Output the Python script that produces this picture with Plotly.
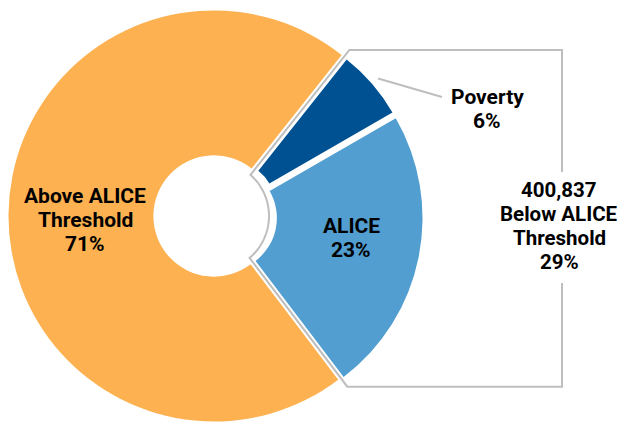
import math
import plotly.graph_objects as go

# ---- data ----
labels = ["Poverty", "ALICE", "Above ALICE Threshold"]
shares = [6, 23, 71]
below_alice_count = "400,837"
below_alice_share = 29
colors = ["#005192", "#529ED0", "#FDB150"]

# ---- layout constants (screen pixels of the 625x422 window) ----
WIN_W, WIN_H = 625, 422
OFF = 8                      # page body margin
W, H = WIN_W - OFF, WIN_H - OFF
ROT = 38.4
# centre x, centre y, radius, hole fraction for each slice's own ring
geom = {
    "Above ALICE Threshold": (214, 216, 205.5, 0.295),
    "ALICE": (223, 218, 199.5, 0.27),
    "Poverty": (230.5, 206, 187, 0.24),
}


def paper(x, y):
    return (x - OFF) / W, 1 - (y - OFF) / H


def domain(cx, cy, r):
    x0, y1 = paper(cx - r, cy - r)
    x1, y0 = paper(cx + r, cy + r)
    return dict(x=[max(0, x0), min(1, x1)], y=[max(0, y0), min(1, y1)])


fig = go.Figure()
for i, lab in enumerate(labels):
    cx, cy, r, hole = geom[lab]
    fig.add_trace(go.Pie(
        labels=labels, values=shares, sort=False, direction="clockwise",
        rotation=ROT, hole=hole, domain=domain(cx, cy, r),
        marker=dict(colors=[c if j == i else "rgba(0,0,0,0)" for j, c in enumerate(colors)],
                    line=dict(width=0)),
        textinfo="none", hoverinfo="skip", showlegend=False,
    ))

# ---- bracket outline around the below-ALICE part ----
total = sum(shares)
th_top = math.radians(ROT)
th_bot = math.radians(ROT + (shares[0] + shares[1]) / total * 360)
cx, cy = geom["Above ALICE Threshold"][:2]
d = 3.0
r_in = 55.0
y_top, y_bot, x_br = 50.0, 386.7, 562.0

ut = (math.sin(th_top), -math.cos(th_top))
nt = (math.cos(th_top), math.sin(th_top))
ub = (math.sin(th_bot), -math.cos(th_bot))
nb = (-math.cos(th_bot), -math.sin(th_bot))

t_top = (cy + d * nt[1] - y_top) / math.cos(th_top)
top_outer = (cx + t_top * ut[0] + d * nt[0], y_top)
t_bot = (cy + d * nb[1] - y_bot) / math.cos(th_bot)
bot_outer = (cx + t_bot * ub[0] + d * nb[0], y_bot)
t_in = math.sqrt(r_in ** 2 - d ** 2)
top_inner = (cx + t_in * ut[0] + d * nt[0], cy + t_in * ut[1] + d * nt[1])
bot_inner = (cx + t_in * ub[0] + d * nb[0], cy + t_in * ub[1] + d * nb[1])

a0 = math.atan2(top_inner[0] - cx, -(top_inner[1] - cy))
a1 = math.atan2(bot_inner[0] - cx, -(bot_inner[1] - cy))
arc = [(cx + r_in * math.sin(a0 + (a1 - a0) * k / 40), cy - r_in * math.cos(a0 + (a1 - a0) * k / 40))
       for k in range(41)]

pts = [(x_br, 172), (x_br, y_top), top_outer, top_inner] + arc + [bot_inner, bot_outer, (x_br, y_bot), (x_br, 283)]
pp = [paper(*p) for p in pts]
path = "M " + " L ".join(f"{x:.5f},{y:.5f}" for x, y in pp)
fig.add_shape(type="path", path=path, xref="paper", yref="paper",
              line=dict(color="#BEBEBE", width=2), fillcolor="rgba(0,0,0,0)")

# ---- leader line for Poverty ----
pcx, pcy, pr, _ = geom["Poverty"]
mid = math.radians(ROT + shares[0] / total * 360 / 2)
l0 = (pcx + (pr + 8) * math.sin(mid), pcy - (pr + 8) * math.cos(mid))
l1 = (442, 97)
x0, y0 = paper(*l0)
x1, y1 = paper(*l1)
fig.add_shape(type="line", x0=x0, y0=y0, x1=x1, y1=y1, xref="paper", yref="paper",
              line=dict(color="#BEBEBE", width=2))

# ---- labels (one annotation per line to get the tight line pitch) ----
PITCH = 24
blocks = [
    (["Above ALICE", "Threshold", f"{shares[2]}%"], (85, 220), 21),
    ([labels[1], f"{shares[1]}%"], (351, 238), 21),
    ([labels[0], f"{shares[0]}%"], (487, 109), 21),
    ([below_alice_count, "Below ALICE", "Threshold", f"{below_alice_share}%"], (559, 226), 20.5),
]
for lines, (x, yc), fs in blocks:
    font = dict(family="Roboto", size=fs, color="#000000", weight=700)
    n = len(lines)
    for k, line in enumerate(lines):
        y = yc + (k - (n - 1) / 2) * PITCH
        xp, yp = paper(x, y)
        fig.add_annotation(text=line, x=xp, y=yp, xref="paper", yref="paper", showarrow=False,
                           xanchor="center", yanchor="middle", align="center", font=font)

fig.update_layout(width=W, height=H, margin=dict(l=0, r=0, t=0, b=0),
                  paper_bgcolor="white", plot_bgcolor="white")
fig.write_html("out.html")
